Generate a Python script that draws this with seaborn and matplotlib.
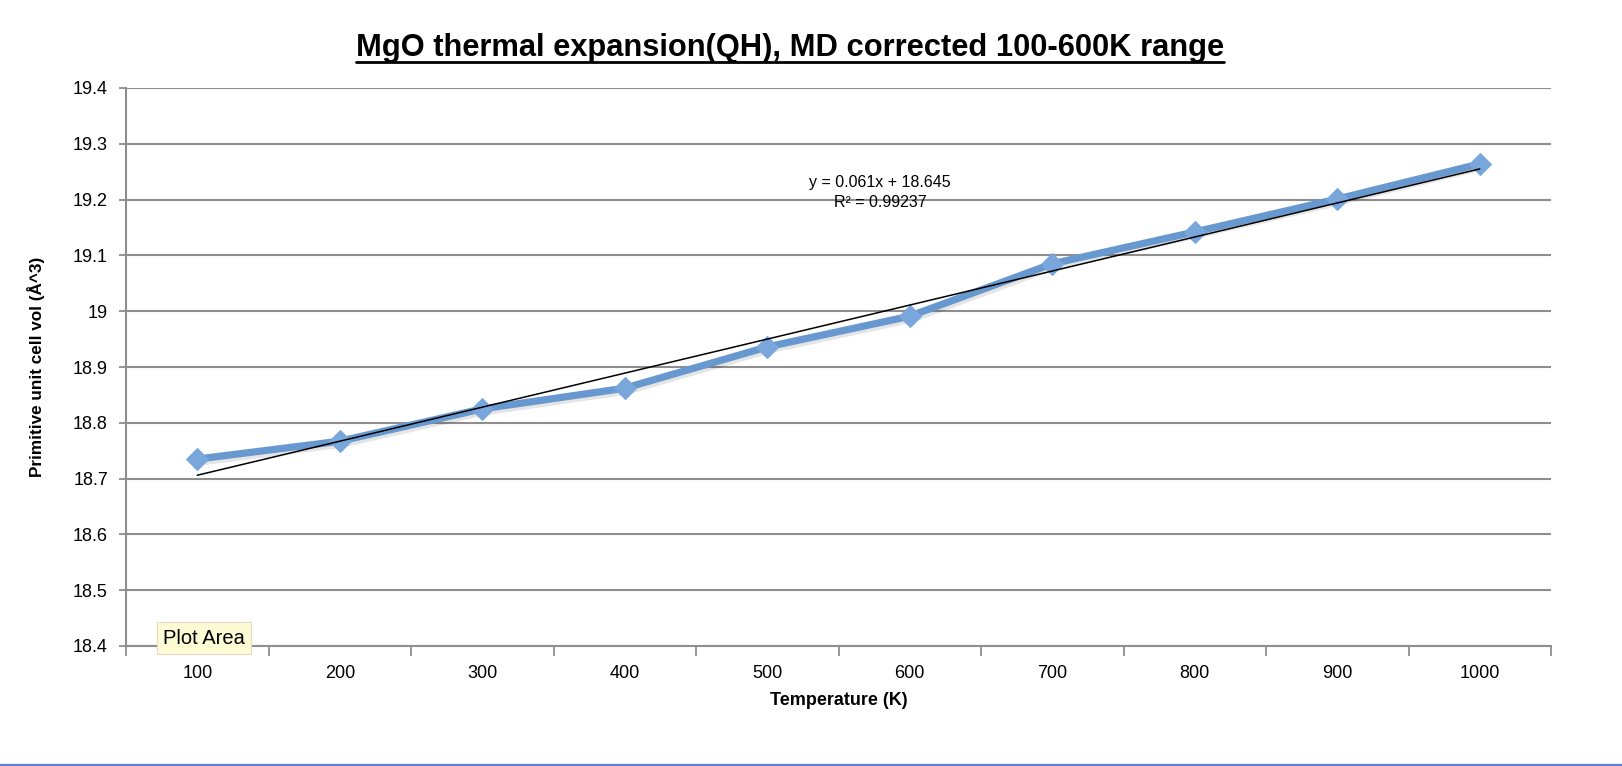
import numpy as np
import pandas as pd
import matplotlib
matplotlib.use("Agg")
import matplotlib.pyplot as plt
import matplotlib.transforms as mtransforms
from matplotlib.lines import Line2D
import seaborn as sns

# data
temps = [100, 200, 300, 400, 500, 600, 700, 800, 900, 1000]
volume = [18.735, 18.767, 18.825, 18.862, 18.936, 18.991, 19.085, 19.142, 19.201, 19.264]
trend_slope = 0.061
trend_icept = 18.645
trend_text = "y = 0.061x + 18.645\nR\u00b2 = 0.99237"
y_ticks = [18.4, 18.5, 18.6, 18.7, 18.8, 18.9, 19.0, 19.1, 19.2, 19.3, 19.4]
y_tick_labels = ["18.4", "18.5", "18.6", "18.7", "18.8", "18.9", "19", "19.1", "19.2", "19.3", "19.4"]
title = "MgO thermal expansion(QH), MD corrected 100-600K range"

LINE_BLUE = "#6898d0"
MARK_BLUE = "#79a7dc"
GRID = "#8e8e8e"

sns.set_theme(style="white")
plt.rcParams["font.family"] = ["Liberation Sans", "DejaVu Sans"]
plt.rcParams["text.color"] = "black"
plt.rcParams["axes.labelcolor"] = "black"

df = pd.DataFrame({"idx": np.arange(1, len(temps) + 1), "temp": temps, "vol": volume})

W, H, DPI = 1622, 766, 100
fig = plt.figure(figsize=(W / DPI, H / DPI), dpi=DPI)
ax = fig.add_axes([126 / W, 1 - 646 / H, 1425 / W, 558 / H])

# grid
for yv in y_ticks:
    ax.axhline(yv, color=GRID, lw=1.5, zorder=0)

# soft drop shadow under the series, like Excel
shadow = mtransforms.offset_copy(ax.transData, fig=fig, x=1.5, y=-2.5, units="dots")
ax.plot(df["idx"], df["vol"], color="black", alpha=0.10, lw=6, transform=shadow, zorder=1)

# trendline (Excel style linear fit over category index)
xt = np.array([df["idx"].min(), df["idx"].max()])
ax.plot(xt, trend_slope * xt + trend_icept, color="black", lw=1.1, zorder=3)

sns.lineplot(data=df, x="idx", y="vol", ax=ax, color=LINE_BLUE, lw=5.2,
             marker="D", markersize=11, markerfacecolor=MARK_BLUE,
             markeredgecolor=MARK_BLUE, zorder=2)

ax.text(5.79, 19.213, trend_text, ha="center", va="center", fontsize=11.5,
        linespacing=1.4, zorder=4)

ax.set_xlim(0.5, len(temps) + 0.5)
ax.set_ylim(18.4, 19.4)
ax.set_xticks(df["idx"])
ax.set_xticklabels([str(t) for t in temps], fontsize=13)
ax.set_xticks(np.arange(0.5, len(temps) + 1), minor=True)
ax.tick_params(axis="x", which="major", length=0, pad=14, labelcolor="black")
ax.tick_params(axis="x", which="minor", length=7, width=1.3, color=GRID, direction="out", bottom=True)
ax.set_yticks(y_ticks)
ax.set_yticklabels(y_tick_labels, fontsize=13)
ax.tick_params(axis="y", length=5, width=1.3, color=GRID, direction="out", left=True, pad=8,
               labelcolor="black")

for s in ["top", "right"]:
    ax.spines[s].set_visible(False)
for s in ["left", "bottom"]:
    ax.spines[s].set_color(GRID)
    ax.spines[s].set_linewidth(1.5)

ax.set_xlabel("Temperature (K)", fontsize=13, fontweight="bold")
ax.set_ylabel("Primitive unit cell vol (\u00c5^3)", fontsize=12.3, fontweight="bold")
ax.xaxis.set_label_coords(0.5, -0.082)
ax.yaxis.set_label_coords(-0.057, 0.5)

# title with underline
t = fig.text(790 / W, 1 - 48 / H, title, ha="center", va="center",
             fontsize=22.2, fontweight="bold")
fig.canvas.draw()
bb = t.get_window_extent()
uy = bb.y0 + 1
fig.add_artist(Line2D([bb.x0 / W, bb.x1 / W], [uy / H, uy / H],
                      transform=fig.transFigure, color="black", lw=2))

# Excel hover tooltip
fig.text(163 / W, 1 - 638 / H, "Plot Area", ha="left", va="center", fontsize=14.5,
         bbox=dict(boxstyle="square,pad=0.3", facecolor="#fdfbd4", edgecolor="#dedcc4", lw=0.8))

# chart frame bottom edge
fig.add_artist(Line2D([0, 1], [1.5 / H, 1.5 / H], transform=fig.transFigure,
                      color="#5b80cf", lw=1.6))

fig.savefig("out.png", dpi=DPI)
